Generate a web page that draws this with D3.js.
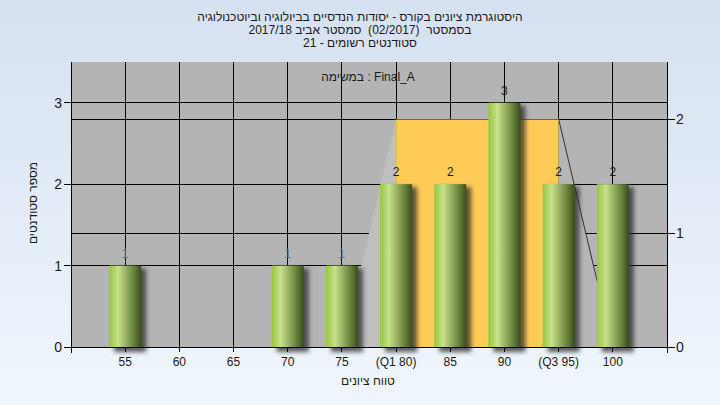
<!DOCTYPE html>
<html><head><meta charset="utf-8">
<script src="https://cdn.jsdelivr.net/npm/d3@7"></script>
<style>
html,body{margin:0;padding:0;background:#fff;}
svg{display:block;font-family:"Liberation Sans",Arial,sans-serif;}
text{white-space:pre;}
</style></head>
<body><svg id="c" width="720" height="405"></svg>
<script>
// ---- data ----
const categories = ["55","60","65","70","75","80","85","90","95","100"];
const tickLabels = ["55","60","65","70","75","(Q1 80)","85","90","(Q3 95)","100"];
const counts = [1,0,0,1,1,2,2,3,2,2];
const leftTicks = [0,1,2,3];
const rightTicks = [0,1,2];
const boxRange = ["80","95"];       // Q1..Q3
const whiskerRange = ["75","100"];  // low..high
const boxLevel = 2;                 // right-axis level of the box top
const titleLines = [
  "היסטוגרמת ציונים בקורס - יסודות הנדסיים בביולוגיה וביוטכנולוגיה",
  "בסמסטר  (02/2017)  סמסטר אביב 2017/18",
  "סטודנטים רשומים - 21"
];
const legendText = "במשימה : Final_A";
const yTitle = "מספר סטודנטים";
const xTitle = "טווח ציונים";

// ---- layout ----
const W=720,H=405;
const L=71,R=667,T=62,B=347;
const svg=d3.select("#c");
const defs=svg.append("defs");

const bg=defs.append("linearGradient").attr("id","bg").attr("x1",0).attr("y1",0).attr("x2",0).attr("y2",1);
bg.append("stop").attr("offset","0%").attr("stop-color","#D5E1F1");
bg.append("stop").attr("offset","100%").attr("stop-color","#F0F6FD");

const bar=defs.append("linearGradient").attr("id","bar").attr("x1",0).attr("y1",0).attr("x2",1).attr("y2",0);
[["0%","#98C63E"],["28%","#C7E18C"],["50%","#9DB565"],["78%","#66803A"],["94%","#465C22"],["100%","#3A4C1A"]]
 .forEach(s=>bar.append("stop").attr("offset",s[0]).attr("stop-color",s[1]));

const f=defs.append("filter").attr("id","sh").attr("x","-50%").attr("y","-20%").attr("width","200%").attr("height","140%");
f.append("feGaussianBlur").attr("stdDeviation",2);

svg.append("rect").attr("width",W).attr("height",H).attr("fill","url(#bg)");

const x=d3.scalePoint().domain(categories).range([L,R]).padding(1);
const yL=d3.scaleLinear().domain([0,3.5]).range([B,T]);
const yR=d3.scaleLinear().domain([0,2.5]).range([B,T]);

// plot area
svg.append("rect").attr("x",L).attr("y",T).attr("width",R-L).attr("height",B-T).attr("fill","#B4B4B4");

// gridlines
const g=svg.append("g").attr("stroke","#000").attr("stroke-width",1).attr("shape-rendering","crispEdges");
categories.forEach(c=>g.append("line").attr("x1",x(c)).attr("x2",x(c)).attr("y1",T).attr("y2",B));
leftTicks.filter(v=>v>0).forEach(v=>g.append("line").attr("x1",L).attr("x2",R).attr("y1",yL(v)).attr("y2",yL(v)));
rightTicks.filter(v=>v>0).forEach(v=>g.append("line").attr("x1",L).attr("x2",R).attr("y1",yR(v)).attr("y2",yR(v)));

// whisker areas
svg.append("path")
  .attr("d",d3.line()([[x(whiskerRange[0]),B],[x(boxRange[0]),yR(boxLevel)+0.5],[x(boxRange[0]),B]])+"Z")
  .attr("fill","#BFBFBF");
svg.append("path")
  .attr("d",d3.line()([[x(boxRange[1]),yR(boxLevel)+0.5],[x(whiskerRange[1]),B],[x(boxRange[1]),B]])+"Z")
  .attr("fill","#B6B6B6");
svg.append("line").attr("x1",x(boxRange[1])).attr("y1",yR(boxLevel)).attr("x2",x(whiskerRange[1])).attr("y2",B)
  .attr("stroke","#333").attr("stroke-width",1);

// box
svg.append("rect").attr("x",x(boxRange[0])).attr("y",yR(boxLevel)+0.5)
  .attr("width",x(boxRange[1])-x(boxRange[0])).attr("height",B-yR(boxLevel)-0.5).attr("fill","#FECB57");

// bars
const bw=32;
const data=categories.map((c,i)=>({c,v:counts[i]})).filter(d=>d.v>0);
svg.append("g").selectAll("rect").data(data).join("rect")
  .attr("x",d=>x(d.c)-bw/2+5).attr("y",d=>yL(d.v)+3).attr("width",bw).attr("height",d=>B-yL(d.v)+2)
  .attr("fill","#2a2a2a").attr("opacity",0.75).attr("filter","url(#sh)");
svg.append("g").selectAll("rect").data(data).join("rect")
  .attr("x",d=>x(d.c)-bw/2).attr("y",d=>yL(d.v)).attr("width",bw).attr("height",d=>B-yL(d.v))
  .attr("fill","url(#bar)");
svg.append("g").selectAll("text").data(data).join("text")
  .attr("x",d=>x(d.c)).attr("y",d=>yL(d.v)-8).attr("text-anchor","middle")
  .attr("font-size",12).attr("fill",d=>d.v===1?"#5a7590":"#1a1a1a").text(d=>d.v);

// axes
const ax=svg.append("g").attr("stroke","#000").attr("shape-rendering","crispEdges");
ax.append("line").attr("x1",L).attr("x2",L).attr("y1",T).attr("y2",B+6);
ax.append("line").attr("x1",R).attr("x2",R).attr("y1",T).attr("y2",B+6);
ax.append("line").attr("x1",L).attr("x2",R).attr("y1",B).attr("y2",B);
categories.forEach(c=>ax.append("line").attr("x1",x(c)).attr("x2",x(c)).attr("y1",B).attr("y2",B+5));
leftTicks.forEach(v=>ax.append("line").attr("x1",L-7).attr("x2",L).attr("y1",yL(v)).attr("y2",yL(v)));
rightTicks.forEach(v=>ax.append("line").attr("x1",R).attr("x2",R+8).attr("y1",yR(v)).attr("y2",yR(v)));

const t=svg.append("g").attr("fill","#1a1a1a");
leftTicks.forEach(v=>t.append("text").attr("x",L-9).attr("y",yL(v)+5).attr("text-anchor","end").attr("font-size",14).text(v));
rightTicks.forEach(v=>t.append("text").attr("x",R+9).attr("y",yR(v)+5).attr("font-size",14).text(v));
categories.forEach((c,i)=>t.append("text").attr("x",x(c)).attr("y",366).attr("text-anchor","middle").attr("font-size",12).text(tickLabels[i]));

titleLines.forEach((s,i)=>t.append("text").attr("x",360).attr("y",21+i*13).attr("text-anchor","middle")
  .attr("direction","rtl").attr("font-size",12).text(s));
t.append("text").attr("x",368).attr("y",81).attr("text-anchor","middle").attr("font-size",12).text(legendText);
t.append("text").attr("x",368).attr("y",385).attr("text-anchor","middle").attr("direction","rtl").attr("font-size",12).text(xTitle);
t.append("text").attr("transform","translate(37,203) rotate(-90)").attr("text-anchor","middle").attr("direction","rtl").attr("font-size",12).text(yTitle);
</script></body></html>
